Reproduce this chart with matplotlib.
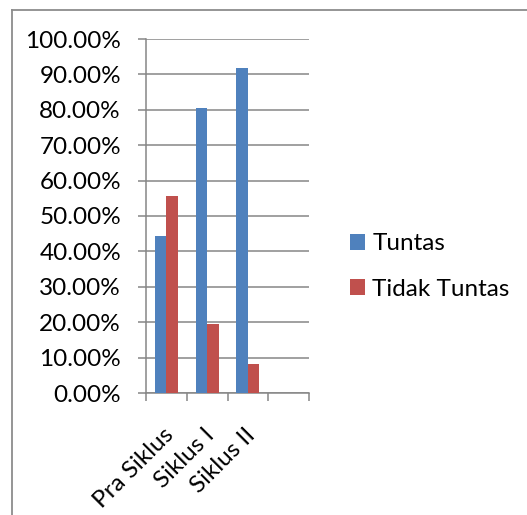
import matplotlib
matplotlib.use("Agg")
import matplotlib.pyplot as plt
from matplotlib.lines import Line2D
from matplotlib.ticker import FuncFormatter, MultipleLocator
from matplotlib.transforms import ScaledTranslation
import numpy as np

categories = ["Pra Siklus", "Siklus I", "Siklus II", ""]
tuntas = [0.4444, 0.8056, 0.9167]
tidak_tuntas = [0.5556, 0.1944, 0.0833]
series_names = ["Tuntas", "Tidak Tuntas"]
colors = ["#4F81BD", "#C0504D"]

plt.rcParams["font.family"] = ["Lato", "DejaVu Sans"]
FS = 17.5

W, H = 527, 515
fig = plt.figure(figsize=(W / 100, H / 100), dpi=100)
fig.patch.set_facecolor("white")

# outer chart frame (only top and left are visible in the crop)
fig.add_artist(Line2D([12 / W, 12 / W], [0, 1 - 10 / H], color="#8c8c8c", lw=1.3))
fig.add_artist(Line2D([12 / W, 1], [1 - 10 / H, 1 - 10 / H], color="#8c8c8c", lw=1.3))

left, right, top, bottom = 146, 309, 39, 393
ax = fig.add_axes([left / W, 1 - bottom / H, (right - left) / W, (bottom - top) / H])

x = np.arange(len(tuntas))
bw = 0.28
ax.bar(x - bw / 2, tuntas, width=bw, color=colors[0], label=series_names[0], zorder=3)
ax.bar(x + bw / 2, tidak_tuntas, width=bw, color=colors[1], label=series_names[1], zorder=3)

ax.set_xlim(-0.5, len(categories) - 0.5)
ax.set_ylim(0, 1.0)
ax.yaxis.set_major_locator(MultipleLocator(0.1))
ax.yaxis.set_major_formatter(FuncFormatter(lambda v, p: f"{v * 100:.2f}%"))
ax.grid(axis="y", color="#868686", lw=1.1, zorder=0)

for s in ["top", "right"]:
    ax.spines[s].set_visible(False)
for s in ["left", "bottom"]:
    ax.spines[s].set_color("#868686")
    ax.spines[s].set_linewidth(1.1)

ax.tick_params(axis="y", length=6, width=1.1, color="#868686", pad=12, labelsize=FS)
ax.set_xticks(np.arange(len(categories)))
ax.set_xticks(np.arange(len(categories) + 1) - 0.5, minor=True)
ax.tick_params(axis="x", which="major", length=0, pad=28)
ax.tick_params(axis="x", which="minor", length=6, width=1.1, color="#868686")
ax.set_xticklabels(categories, rotation=45, ha="right", va="center",
                   rotation_mode="anchor", fontsize=FS)
shift = ScaledTranslation(4 / 100, 0, fig.dpi_scale_trans)
for lbl in ax.get_xticklabels():
    lbl.set_transform(lbl.get_transform() + shift)

leg = ax.legend(loc="center left", bbox_to_anchor=(350 / W, 1 - 266.5 / H),
                bbox_transform=fig.transFigure, frameon=False, fontsize=FS,
                handlelength=0.62, handleheight=0.62, handletextpad=0.3,
                labelspacing=1.0, borderpad=0, borderaxespad=0)

fig.savefig("out.png", dpi=100, facecolor="white")
